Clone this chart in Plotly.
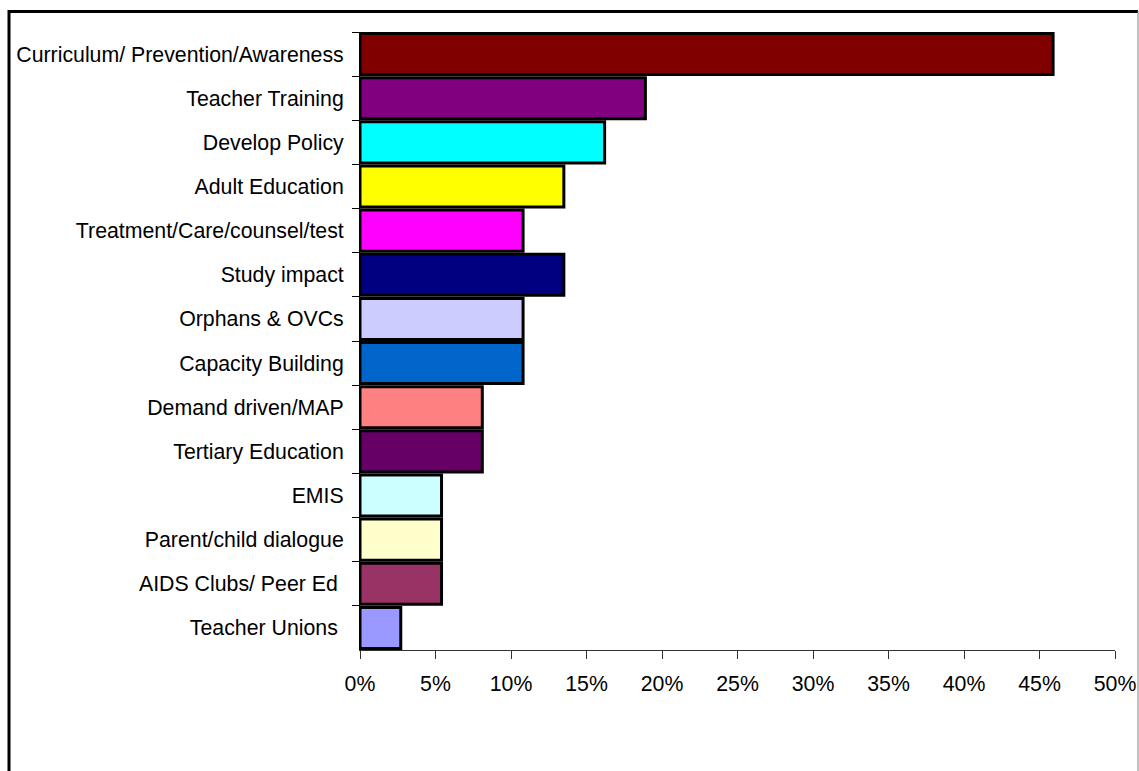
import plotly.graph_objects as go

categories = [
    "Curriculum/ Prevention/Awareness",
    "Teacher Training",
    "Develop Policy",
    "Adult Education",
    "Treatment/Care/counsel/test",
    "Study impact",
    "Orphans & OVCs",
    "Capacity Building",
    "Demand driven/MAP",
    "Tertiary Education",
    "EMIS",
    "Parent/child dialogue",
    "AIDS Clubs/ Peer Ed\u00a0",
    "Teacher Unions\u00a0",
]
values = [45.9, 18.9, 16.2, 13.5, 10.8, 13.5, 10.8, 10.8, 8.1, 8.1, 5.4, 5.4, 5.4, 2.7]
colors = [
    "#800000", "#800080", "#00FFFF", "#FFFF00", "#FF00FF", "#000080", "#CCCCFF",
    "#0066CC", "#FF8080", "#660066", "#CCFFFF", "#FFFFCC", "#993366", "#9999FF",
]
x_ticks = [0, 5, 10, 15, 20, 25, 30, 35, 40, 45, 50]

W, H = 1139, 771
L, R, T, B = 360, 24, 32, 121
pw, ph = W - L - R, H - T - B

def px_x(p):
    return (p - L) / pw

def px_y(p):
    return (H - B - p) / ph

fig = go.Figure(go.Bar(
    x=values, y=categories, orientation="h",
    marker=dict(color=colors, line=dict(color="black", width=3)),
    hoverinfo="skip",
))

fig.update_layout(
    width=W, height=H, autosize=False,
    margin=dict(l=L, r=R, t=T, b=B, pad=0, autoexpand=False),
    paper_bgcolor="white", plot_bgcolor="white",
    font=dict(family="Liberation Sans, Arial, sans-serif", size=21.3, color="black"),
    bargap=0.07,
    showlegend=False,
    xaxis=dict(
        range=[0, 50], tickvals=x_ticks, ticktext=[f"{v}%" for v in x_ticks],
        showgrid=False, zeroline=False, showline=True, linecolor="#333333", linewidth=1,
        ticks="outside", ticklen=8, tickcolor="#333333", tickwidth=1,
        ticklabelstandoff=6, fixedrange=True, automargin=False,
    ),
    yaxis=dict(
        autorange="reversed", showgrid=False, zeroline=False,
        showline=True, linecolor="black", linewidth=1,
        ticks="outside", ticklen=7, tickcolor="black", tickwidth=1,
        tickson="boundaries", ticklabelstandoff=11, fixedrange=True, automargin=False,
    ),
    shapes=[
        dict(type="line", xref="paper", yref="paper",
             x0=px_x(9), x1=px_x(9), y0=px_y(10), y1=px_y(790),
             line=dict(color="black", width=3)),
        dict(type="line", xref="paper", yref="paper",
             x0=px_x(8), x1=px_x(1138), y0=px_y(11.5), y1=px_y(11.5),
             line=dict(color="black", width=3)),
        dict(type="line", xref="paper", yref="paper",
             x0=px_x(1138), x1=px_x(1138), y0=px_y(11), y1=px_y(790),
             line=dict(color="#808080", width=1)),
    ],
)

fig.write_html(
    "out.html",
    config={"displayModeBar": False},
    post_script="document.body.style.margin='0';document.body.style.overflow='hidden';",
)
